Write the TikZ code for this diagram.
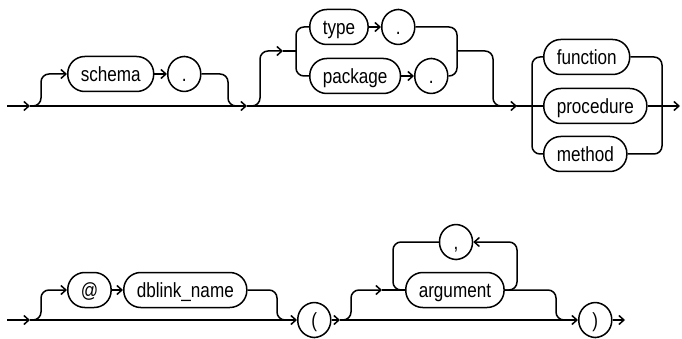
\documentclass[tikz,border=0pt]{standalone}
\usepackage{fontspec}
\setmainfont{Liberation Sans}[FakeStretch=0.835]
\usetikzlibrary{arrows.meta}
\begin{document}
\begin{tikzpicture}[x=1pt,y=-1pt,line width=1.5pt,
  term/.style={draw,rounded corners=17pt,minimum height=35pt,minimum width=33pt,
    inner xsep=13pt,inner ysep=0pt,text height=15.5pt,text depth=0pt,anchor=west,
    font=\fontsize{20.5}{24}\selectfont},
  arr/.style={-{Straight Barb[length=5pt,width=9pt]}},
  rc/.style={rounded corners=8pt}]
\useasboundingbox (0,0) rectangle (682,339);

% ---------- row 1 ----------
\node[term] (schema) at (67,74) {schema};
\node[term] (dot1) at (167,74) {.};
\node[term] (type) at (309,27) {type};
\node[term] (dot2) at (381,27) {.};
\node[term] (package) at (309,76) {package};
\node[term] (dot3) at (414,76) {.};
\node[term] (function) at (543,57) {function};
\node[term] (procedure) at (543,106) {procedure};
\node[term] (method) at (543,154) {method};

\coordinate (r1s) at (7,106);
\coordinate (r1a) at (30,106);
\coordinate (r1m) at (240,106);
\coordinate (r1b) at (247,106);
\coordinate (r1c) at (517,106);
\coordinate (r1e) at (680,106);
\coordinate (tpin) at (283,51);
\coordinate (tpsplit) at (296,51);
\coordinate (tpout) at (457,51);

\draw[arr] (r1s) -- (r1a);
\draw[arr] (r1a) -- (r1b);
\draw[arr] (r1b) -- (r1c);
\draw (r1c) -- (procedure.west);
\draw[arr] (procedure.east) -- (r1e);

\draw[rc,arr] (r1a) -- (41,106) -- (41,74) -- (schema.west);
\draw[arr] (schema.east) -- (dot1.west);
\draw[rc] (dot1.east) -- (228,74) -- (228,106) -- (r1m);

\draw[rc,arr] (r1b) -- (260,106) -- (260,51) -- (tpin);
\draw (tpin) -- (tpsplit);
\draw[rc] (type.west) -- (296,27) -- (296,76) -- (package.west);
\draw[arr] (type.east) -- (dot2.west);
\draw[arr] (package.east) -- (dot3.west);
\draw[rc] (dot2.east) -- (457,27) -- (457,76) -- (dot3.east);
\draw[rc] (tpout) -- (493,51) -- (493,106) -- (r1c);

\draw[rc] (function.west) -- (532,57) -- (532,154) -- (method.west);
\draw[rc] (function.east) -- (662,57) -- (662,154) -- (method.east);

% ---------- row 2 ----------
\node[term] (atsign) at (67,290) {@};
\node[term] (dblink) at (123,290) {dblink\_name};
\node[term] (lpar) at (297,320) {(};
\node[term] (argument) at (405,290) {argument};
\node[term,anchor=center] (comma) at (456,242) {,};
\node[term] (rpar) at (578,320) {)};

\coordinate (r2s) at (7,320);
\coordinate (r2a) at (30,320);
\coordinate (r2m) at (288,320);
\coordinate (r2b) at (340,320);
\coordinate (r2c) at (382,290);
\coordinate (r2n) at (566,320);
\coordinate (r2e) at (625,320);

\draw[arr] (r2s) -- (r2a);
\draw[arr] (r2a) -- (lpar.west);
\draw[rc,arr] (r2a) -- (41,320) -- (41,290) -- (atsign.west);
\draw[arr] (atsign.east) -- (dblink.west);
\draw[rc] (dblink.east) -- (277,290) -- (277,320) -- (r2m);

\draw[arr] (lpar.east) -- (r2b);
\draw[arr] (r2b) -- (rpar.west);
\draw[rc,arr] (r2b) -- (351,320) -- (351,290) -- (r2c);
\draw (r2c) -- (argument.west);
\draw[rc,arr] (argument.east) -- (517,290) -- (517,242) -- (comma.east);
\draw[rc] (comma.west) -- (393,242) -- (393,290) -- (argument.west);
\draw[rc] (argument.east) -- (556,290) -- (556,320) -- (r2n);
\draw[arr] (rpar.east) -- (r2e);
\end{tikzpicture}
\end{document}
